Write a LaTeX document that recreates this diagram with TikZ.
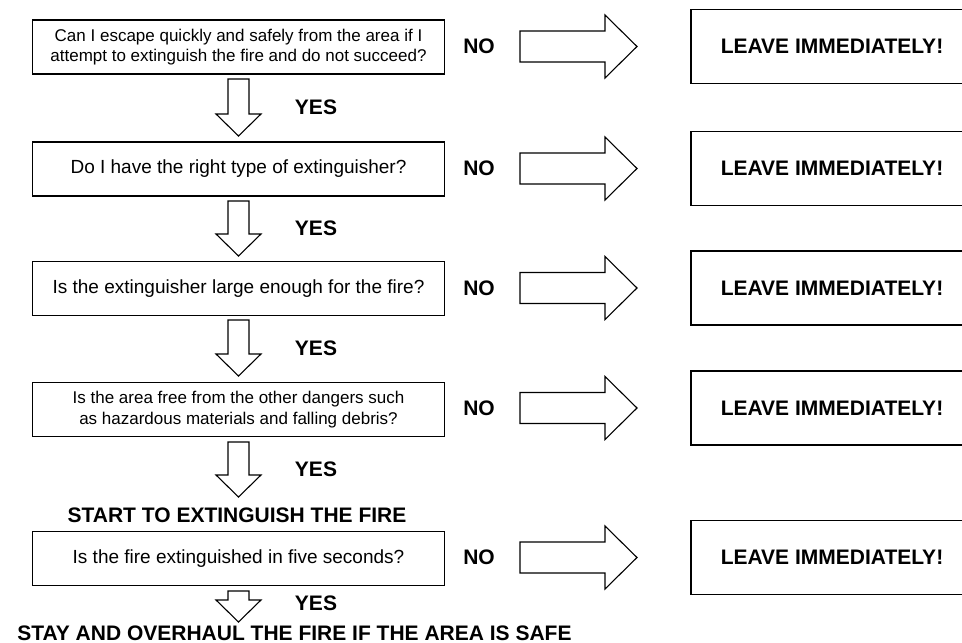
\documentclass[tikz,border=0pt]{standalone}
\usepackage{fontspec}
\setmainfont{Liberation Sans}
\begin{document}
\begin{tikzpicture}[x=1pt,y=-1pt,
  qbox/.style={draw=black,line width=1.8pt,minimum width=412pt,minimum height=54pt,inner sep=0pt,align=center,font=\fontsize{19}{22}\selectfont},
  qboxtwo/.style={qbox,font=\fontsize{17}{20.5}\selectfont},
  lbox/.style={draw=black,line width=1.5pt,minimum width=282pt,minimum height=74pt,inner sep=0pt,font=\bfseries\fontsize{21}{24}\selectfont},
  lbl/.style={font=\bfseries\fontsize{21}{24}\selectfont,inner sep=0pt},
  blockarrow/.style={draw=black,line width=1.1pt,fill=white,line join=miter}]
\useasboundingbox (0,0) rectangle (962,643);
\clip (0,0) rectangle (962,643);
\newcommand\DArr[2]{\draw[blockarrow] (228,#1) -- (249,#1) -- (249,#2-22) -- (261,#2-22) -- (238.5,#2) -- (216,#2-22) -- (228,#2-22) -- cycle;}
\newcommand\RArr[1]{\draw[blockarrow] (520,#1-15.5) -- (605,#1-15.5) -- (605,#1-31.5) -- (637,#1) -- (605,#1+31.5) -- (605,#1+15.5) -- (520,#1+15.5) -- cycle;}

% question boxes
\node[qboxtwo] (q1) at (238.5,47) {Can I escape quickly and safely from the area if I\\attempt to extinguish the fire and do not succeed?};
\node[qbox] (q2) at (238.5,169) {Do I have the right type of extinguisher?};
\node[qbox] (q3) at (238.5,288.5) {Is the extinguisher large enough for the fire?};
\node[qboxtwo] (q4) at (238.5,409.5) {Is the area free from the other dangers such\\as hazardous materials and falling debris?};
\node[qbox] (q5) at (238.5,558.5) {Is the fire extinguished in five seconds?};

% leave boxes
\node[lbox] (l1) at (832,46.5) {LEAVE IMMEDIATELY!};
\node[lbox] (l2) at (832,168.5) {LEAVE IMMEDIATELY!};
\node[lbox] (l3) at (832,288) {LEAVE IMMEDIATELY!};
\node[lbox] (l4) at (832,408) {LEAVE IMMEDIATELY!};
\node[lbox] (l5) at (832,557.5) {LEAVE IMMEDIATELY!};

% NO labels
\node[lbl] (n1) at (479,46.5) {NO};
\node[lbl] (n2) at (479,168.5) {NO};
\node[lbl] (n3) at (479,288) {NO};
\node[lbl] (n4) at (479,408) {NO};
\node[lbl] (n5) at (479,557.5) {NO};

% YES labels
\node[lbl] (y1) at (316,107) {YES};
\node[lbl] (y2) at (316,228) {YES};
\node[lbl] (y3) at (316,348) {YES};
\node[lbl] (y4) at (316,469) {YES};
\node[lbl] (y5) at (316,603) {YES};

% texts
\node[lbl] (start) at (237,515) {START TO EXTINGUISH THE FIRE};
\node[lbl] (stay) at (294.5,633) {STAY AND OVERHAUL THE FIRE IF THE AREA IS SAFE};

% right arrows
\RArr{46.5}
\RArr{168.5}
\RArr{288}
\RArr{408}
\RArr{557.5}

% down arrows
\DArr{79}{136}
\DArr{201}{256}
\DArr{320}{376}
\DArr{442}{497}
\DArr{591}{622}
\end{tikzpicture}
\end{document}
